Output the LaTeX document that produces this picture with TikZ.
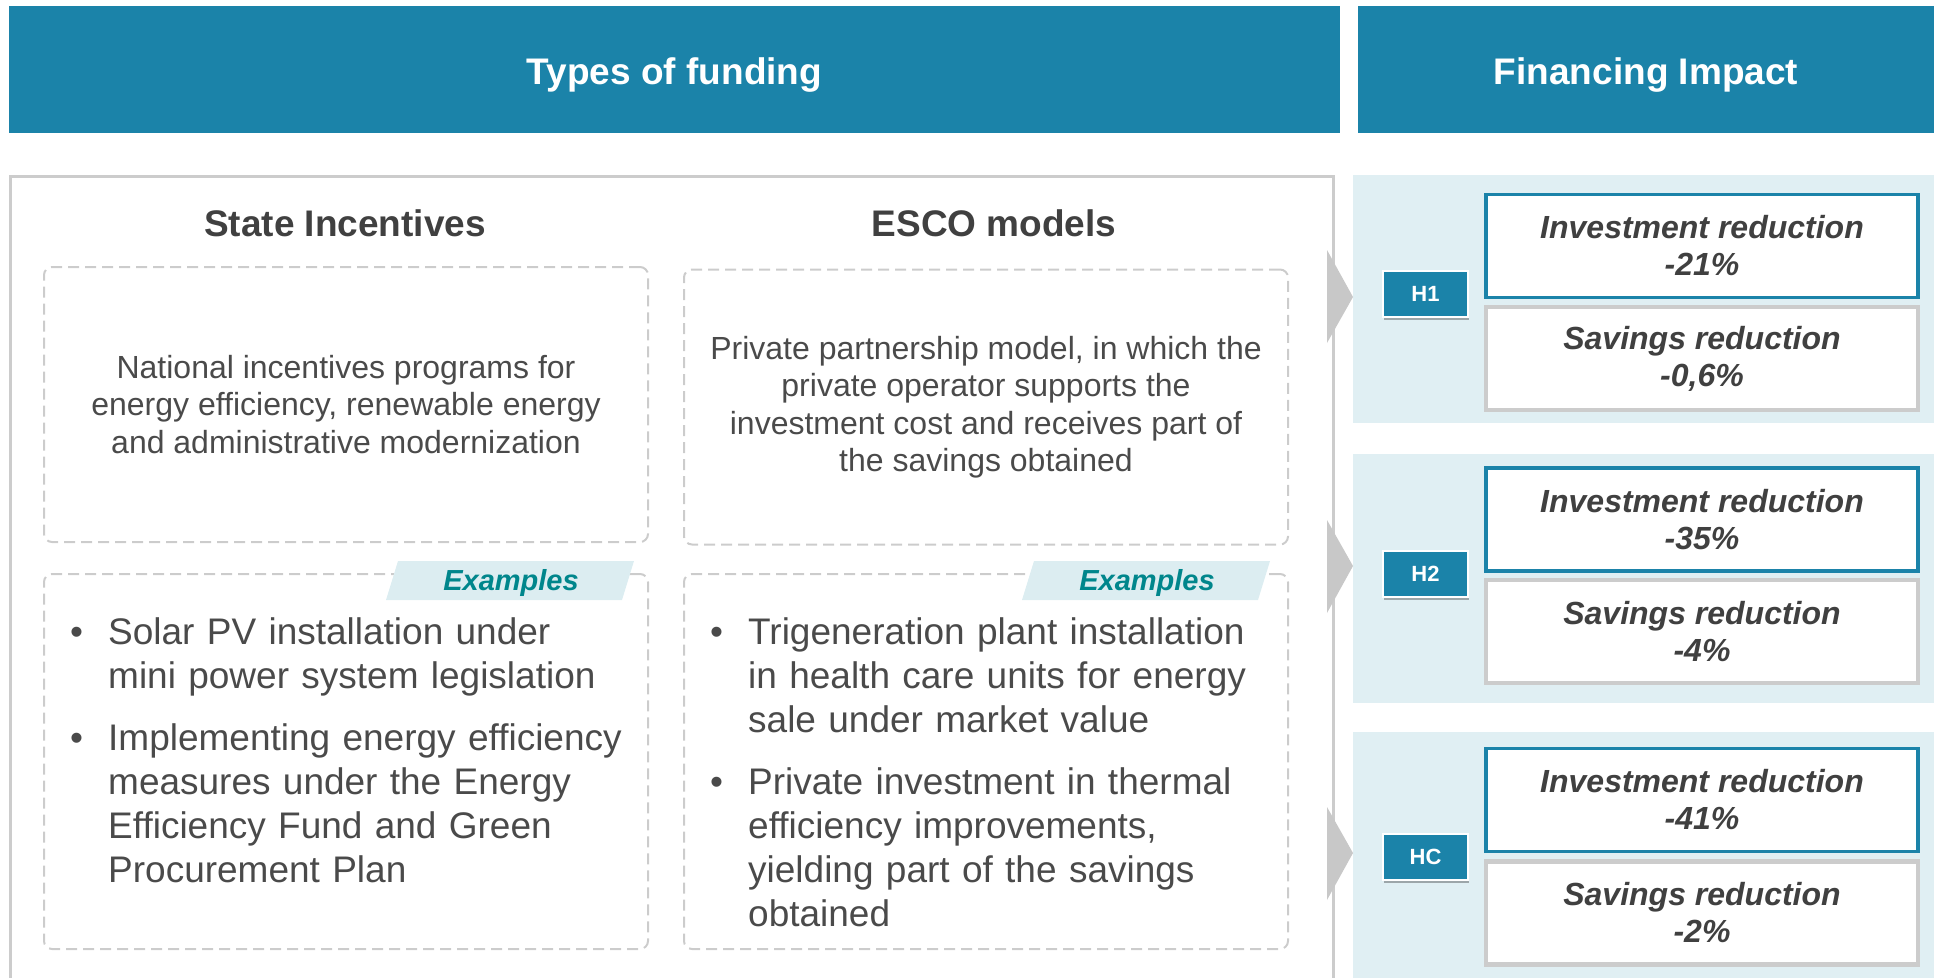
\documentclass[tikz,border=0pt]{standalone}
\usepackage{fontspec}
\setmainfont{Liberation Sans}
\usepackage{xcolor}
\definecolor{hdrblue}{HTML}{1B83A9}
\definecolor{panelbg}{HTML}{E0EFF3}
\definecolor{tagbg}{HTML}{DCEDF1}
\definecolor{boxgray}{HTML}{CCCCCC}
\definecolor{arrowgray}{HTML}{C8C8C8}
\definecolor{txtgray}{HTML}{4A4A4A}
\definecolor{titlegray}{HTML}{404040}
\definecolor{exteal}{HTML}{00868C}
\usepackage{tikz}
\usetikzlibrary{shadows}

\newcommand{\fsz}[2]{\fontsize{#1}{#2}\selectfont}
\newcommand{\exitem}[1]{\par\noindent\hangindent=38pt\hangafter=1\makebox[38pt][l]{\textbullet}#1\par}

\begin{document}
\begin{tikzpicture}[x=1pt,y=-1pt,
    hdr/.style={fill=hdrblue,text=white,font=\fsz{37}{44}\bfseries,minimum height=127pt,inner sep=0pt,
      text height=30pt,text depth=0pt},
    title/.style={text=titlegray,font=\fsz{37}{44}\bfseries},
    dbox/.style={draw=boxgray,line width=2pt,dash pattern=on 11pt off 6pt,rounded corners=8pt,minimum width=604pt,inner sep=0pt},
    desc/.style={text=txtgray,font=\fsz{32}{37.5},align=center},
    exlist/.style={text=txtgray,font=\fsz{37}{44},text width=570pt,align=left,inner sep=0pt},
    extag/.style={text=exteal,font=\fsz{29}{34}\bfseries\itshape},
    hbox/.style={fill=hdrblue,draw=white,line width=2pt,text=white,font=\fsz{22}{26}\bfseries,
      minimum width=85pt,minimum height=46pt,
      drop shadow={shadow xshift=1pt,shadow yshift=-3pt,fill=black,opacity=0.3}},
    invbox/.style={fill=white,draw=hdrblue,line width=3.5pt,minimum width=432pt,minimum height=103pt,
      align=center,text=titlegray,font=\fsz{32}{37}\bfseries\itshape},
    savbox/.style={invbox,draw=boxgray,line width=4.5pt}]
  \useasboundingbox (0,0) rectangle (1934,977);

  % headers
  \node[hdr,minimum width=1331pt] (funding) at (674.5,69.5) {Types of funding};
  \node[hdr,minimum width=576pt] (impact) at (1646,69.5) {Financing Impact};

  % left frame
  \draw[boxgray,line width=3pt] (10.5,176.5) rectangle (1333.5,1000);

  \node[title] (state) at (345,223) {State Incentives};
  \node[title] (esco) at (994,223) {ESCO models};

  \node[dbox,desc,minimum height=275pt] (statedesc) at (346,404.5)
    {National incentives programs for\\energy efficiency, renewable energy\\and administrative modernization};
  \node[dbox,desc,minimum height=275pt] (escodesc) at (986,407)
    {Private partnership model, in which the\\private operator supports the\\investment cost and receives part of\\the savings obtained};

  \node[dbox,minimum height=375pt] (stateex) at (346,761.5) {};
  \node[dbox,minimum height=375pt] (escoex) at (986,761.5) {};

  % examples tags
  \fill[tagbg] (386,600) -- (398,561) -- (634,561) -- (622,600) -- cycle;
  \node[extag] (tag1) at (511,583) {Examples};
  \fill[tagbg] (1022,600) -- (1034,561) -- (1270,561) -- (1258,600) -- cycle;
  \node[extag] (tag2) at (1147,583) {Examples};

  \node[exlist,anchor=base west] (statelist) at (70,600) {%
    \exitem{Solar PV installation under\newline mini power system legislation}
    \vspace{18pt}
    \exitem{Implementing energy efficiency\newline measures under the Energy\newline Efficiency Fund and Green\newline Procurement Plan}};
  \node[exlist,anchor=base west] (escolist) at (710,600) {%
    \exitem{Trigeneration plant installation\newline in health care units for energy\newline sale under market value}
    \vspace{18pt}
    \exitem{Private investment in thermal\newline efficiency improvements,\newline yielding part of the savings\newline obtained}};

  % impact panels
  \begin{scope}[shift={(0,175)}]
    \fill[panelbg] (1353,0) rectangle (1934,248);
    \node[invbox] (inv1) at (1702,71) {Investment reduction\\-21\%};
    \node[savbox] (sav1) at (1702,183.5) {Savings reduction\\-0,6\%};
    \node[hbox] (h1) at (1425.5,119) {H1};
    \fill[arrowgray] (1327,75) -- (1353,122) -- (1327,168) -- cycle;
  \end{scope}

  \begin{scope}[shift={(0,454)}]
    \fill[panelbg] (1353,0) rectangle (1934,249);
    \node[invbox] (inv2) at (1702,65.5) {Investment reduction\\-35\%};
    \node[savbox] (sav2) at (1702,177.5) {Savings reduction\\-4\%};
    \node[hbox] (h2) at (1425.5,120) {H2};
    \fill[arrowgray] (1327,66) -- (1353,112) -- (1327,159) -- cycle;
  \end{scope}

  \begin{scope}[shift={(0,732)}]
    \fill[panelbg] (1353,0) rectangle (1934,260);
    \node[invbox] (inv3) at (1702,68) {Investment reduction\\-41\%};
    \node[savbox] (sav3) at (1702,181) {Savings reduction\\-2\%};
    \node[hbox] (hc) at (1425.5,125) {HC};
    \fill[arrowgray] (1327,75) -- (1353,121) -- (1327,168) -- cycle;
  \end{scope}
\end{tikzpicture}
\end{document}
